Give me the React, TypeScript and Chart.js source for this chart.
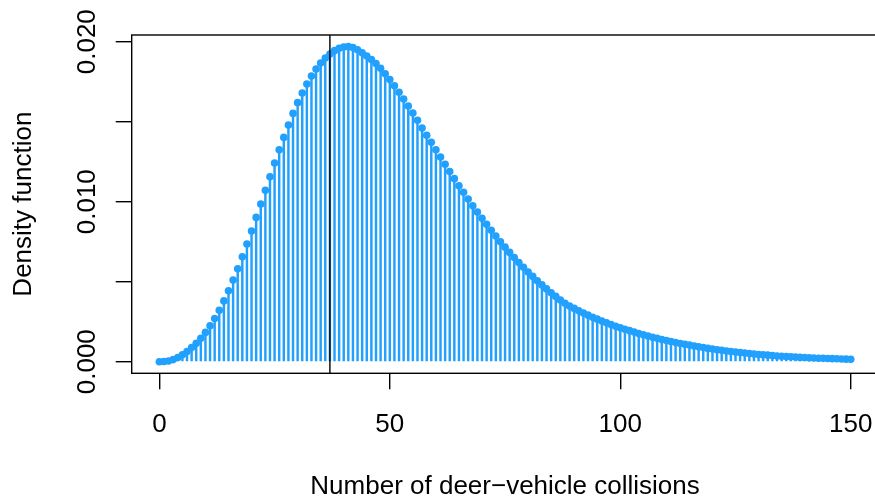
import { useEffect, useRef } from "react";
import { Chart, registerables } from "chart.js";

Chart.register(...registerables);

// Number of deer-vehicle collisions (0..150)
const COUNTS: number[] = Array.from({ length: 151 }, (_, i) => i);

// Density function values, one per count
const DENSITY: number[] = [
  0.00000, 0.00001, 0.00004, 0.00013, 0.00026, 0.00043, 0.00064, 0.00088, 0.00115, 0.00146,
  0.00183, 0.00224, 0.00270, 0.00322, 0.00380, 0.00443, 0.00510, 0.00581, 0.00656, 0.00736,
  0.00817, 0.00902, 0.00986, 0.01072, 0.01156, 0.01242, 0.01325, 0.01402, 0.01479, 0.01552,
  0.01619, 0.01679, 0.01736, 0.01786, 0.01829, 0.01867, 0.01898, 0.01923, 0.01944, 0.01959,
  0.01967, 0.01969, 0.01963, 0.01950, 0.01931, 0.01911, 0.01888, 0.01863, 0.01834, 0.01800,
  0.01763, 0.01725, 0.01684, 0.01642, 0.01598, 0.01554, 0.01509, 0.01461, 0.01415, 0.01371,
  0.01325, 0.01279, 0.01234, 0.01188, 0.01144, 0.01100, 0.01059, 0.01017, 0.00975, 0.00936,
  0.00896, 0.00859, 0.00822, 0.00786, 0.00750, 0.00716, 0.00683, 0.00651, 0.00620, 0.00590,
  0.00561, 0.00533, 0.00506, 0.00480, 0.00455, 0.00431, 0.00408, 0.00386, 0.00365, 0.00348,
  0.00333, 0.00318, 0.00304, 0.00291, 0.00278, 0.00266, 0.00254, 0.00243, 0.00232, 0.00222,
  0.00212, 0.00203, 0.00194, 0.00185, 0.00176, 0.00168, 0.00160, 0.00153, 0.00146, 0.00139,
  0.00132, 0.00126, 0.00120, 0.00114, 0.00109, 0.00104, 0.00098, 0.00093, 0.00088, 0.00083,
  0.00079, 0.00075, 0.00071, 0.00067, 0.00063, 0.00060, 0.00057, 0.00054, 0.00051, 0.00048,
  0.00045, 0.00043, 0.00041, 0.00038, 0.00036, 0.00034, 0.00032, 0.00031, 0.00029, 0.00027,
  0.00026, 0.00024, 0.00023, 0.00022, 0.00021, 0.00020, 0.00019, 0.00018, 0.00017, 0.00016,
  0.00015,
];

const OBSERVED = 37;

const X_TICKS: number[] = [0, 50, 100, 150];
const X_TICK_LABELS: string[] = ["0", "50", "100", "150"];
const Y_TICKS: number[] = [0, 0.005, 0.01, 0.015, 0.02];
const Y_LABEL_VALUES: number[] = [0, 0.01, 0.02];
const Y_LABELS: string[] = ["0.000", "0.010", "0.020"];

const X_TITLE = "Number of deer\u2212vehicle collisions";
const Y_TITLE = "Density function";

const BLUE = "#22A0FE";
const FONT = '26px "Liberation Sans", Arial, Helvetica, sans-serif';

const framePlugin = {
  id: "rframe",
  afterDraw(chart: any) {
    const { ctx, chartArea, scales } = chart;
    const xs = scales.x;
    const ys = scales.y;
    ctx.save();
    // observed value line
    const vx = xs.getPixelForValue(OBSERVED);
    ctx.strokeStyle = "#000";
    ctx.lineWidth = 1.4;
    ctx.beginPath();
    ctx.moveTo(vx, chartArea.top);
    ctx.lineTo(vx, chartArea.bottom);
    ctx.stroke();
    // box
    ctx.lineWidth = 1.4;
    ctx.strokeRect(chartArea.left, chartArea.top, chartArea.right - chartArea.left, chartArea.bottom - chartArea.top);
    // text
    ctx.fillStyle = "#000";
    ctx.font = FONT;
    ctx.textAlign = "center";
    ctx.textBaseline = "alphabetic";
    X_TICKS.forEach((v, i) => {
      ctx.fillText(X_TICK_LABELS[i], xs.getPixelForValue(v), 432);
    });
    ctx.fillText(X_TITLE, (chartArea.left + chartArea.right) / 2, 494);
    Y_LABEL_VALUES.forEach((v, i) => {
      ctx.save();
      ctx.translate(95, ys.getPixelForValue(v));
      ctx.rotate(-Math.PI / 2);
      ctx.fillText(Y_LABELS[i], 0, 0);
      ctx.restore();
    });
    ctx.save();
    ctx.translate(31, (chartArea.top + chartArea.bottom) / 2);
    ctx.rotate(-Math.PI / 2);
    ctx.fillText(Y_TITLE, 0, 0);
    ctx.restore();
    ctx.restore();
  },
};

export default function App() {
  const ref = useRef<HTMLCanvasElement>(null);
  useEffect(() => {
    const pts = DENSITY.map((y, i) => ({ x: COUNTS[i], y }));
    const tickGrid = {
      display: true,
      drawOnChartArea: false,
      drawTicks: true,
      offset: false,
      tickLength: 16,
      color: "#000",
      lineWidth: 1.4,
    };
    const chart = new Chart(ref.current as HTMLCanvasElement, {
      type: "bar",
      data: {
        datasets: [
          {
            type: "scatter",
            data: pts,
            pointRadius: 3.8,
            pointHoverRadius: 3.8,
            backgroundColor: BLUE,
            borderColor: BLUE,
            borderWidth: 0,
            showLine: false,
          } as any,
          {
            type: "bar",
            data: pts,
            backgroundColor: BLUE,
            borderWidth: 0,
            barThickness: 1.8,
          } as any,
        ],
      },
      options: {
        animation: false,
        responsive: false,
        devicePixelRatio: 1,
        events: [],
        layout: { padding: { left: 0, top: 35, right: 21.6, bottom: 0 } },
        plugins: { legend: { display: false }, tooltip: { enabled: false } },
        scales: {
          x: {
            type: "linear",
            min: -6,
            max: 156,
            offset: false,
            grid: tickGrid,
            border: { display: false },
            ticks: { display: false, autoSkip: false },
            afterBuildTicks: (s: any) => {
              s.ticks = X_TICKS.map((v) => ({ value: v }));
            },
            afterFit: (s: any) => {
              s.height = 124.7;
            },
          },
          y: {
            type: "linear",
            min: -0.000725,
            max: 0.020419,
            grid: tickGrid,
            border: { display: false },
            ticks: { display: false, autoSkip: false },
            afterBuildTicks: (s: any) => {
              s.ticks = Y_TICKS.map((v) => ({ value: v }));
            },
            afterFit: (s: any) => {
              s.width = 131.7;
            },
          },
        } as any,
      },
      plugins: [framePlugin],
    });
    return () => chart.destroy();
  }, []);
  return (
    <div
      style={{
        position: "fixed",
        left: 0,
        top: 0,
        width: 875,
        height: 498,
        overflow: "hidden",
        background: "#fff",
      }}
    >
      <canvas ref={ref} width={900} height={498} style={{ display: "block", width: 900, height: 498 }} />
    </div>
  );
}
